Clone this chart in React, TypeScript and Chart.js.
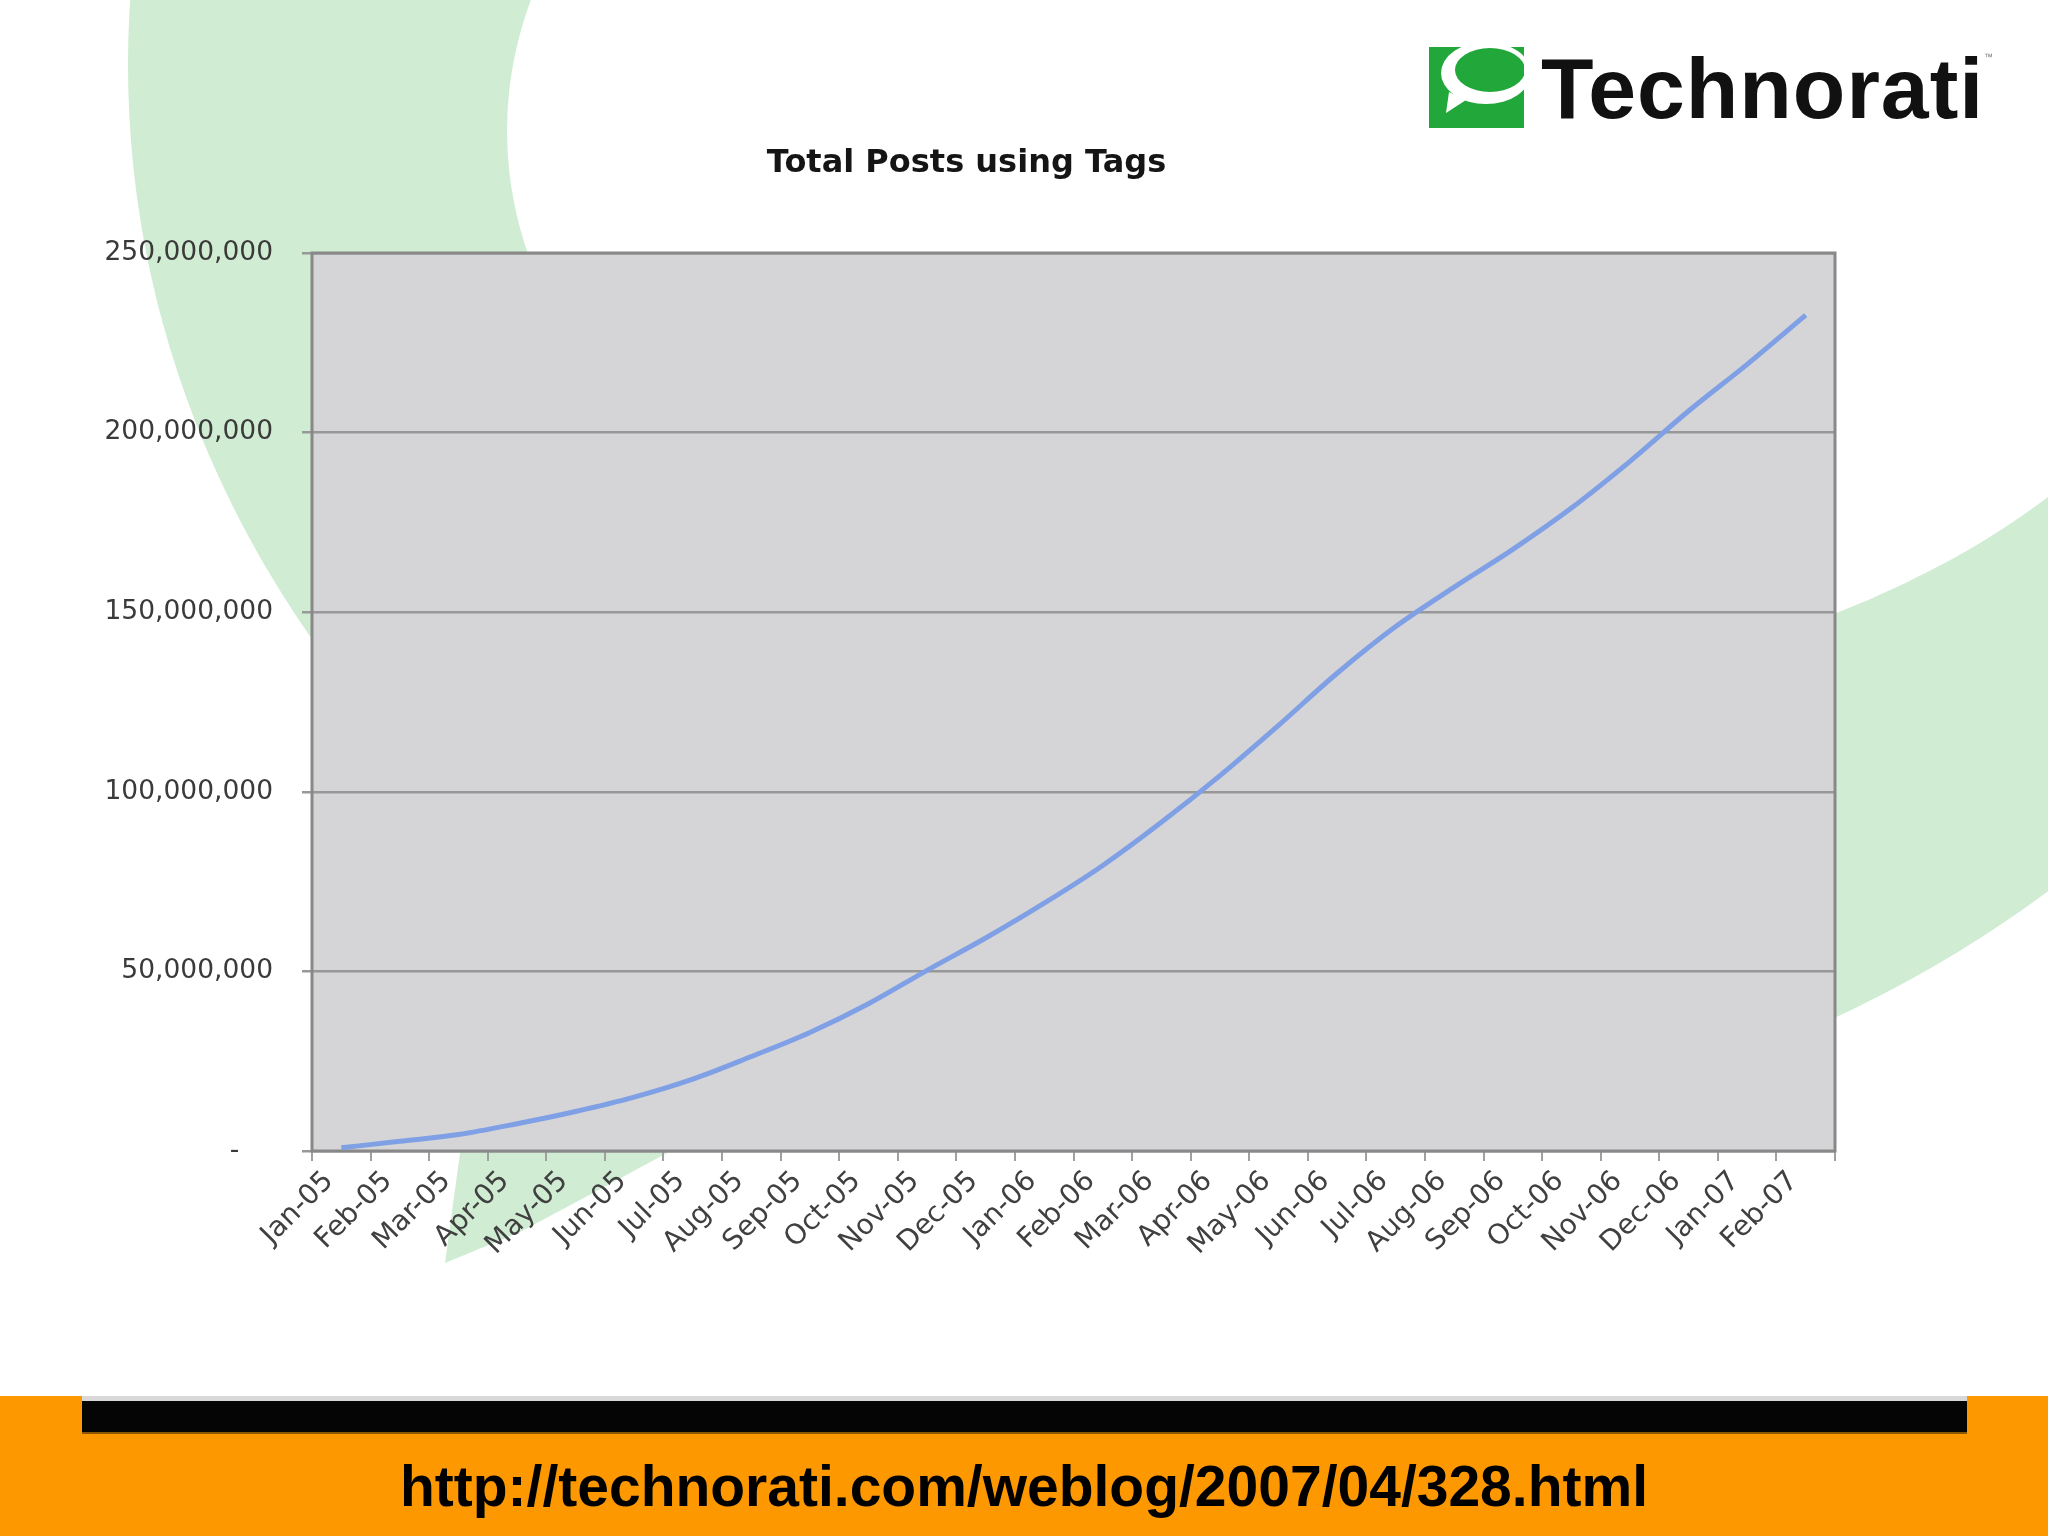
import React, { useEffect, useRef } from "react";
import { Chart, registerables } from "chart.js";

Chart.register(...registerables);

// ---- data ----
const months: string[] = [
  "Jan-05", "Feb-05", "Mar-05", "Apr-05", "May-05", "Jun-05", "Jul-05", "Aug-05",
  "Sep-05", "Oct-05", "Nov-05", "Dec-05", "Jan-06", "Feb-06", "Mar-06", "Apr-06",
  "May-06", "Jun-06", "Jul-06", "Aug-06", "Sep-06", "Oct-06", "Nov-06", "Dec-06",
  "Jan-07", "Feb-07",
];

const totalPosts: number[] = [
  900000, 2700000, 4600000, 7600000, 11000000, 15000000, 20000000, 26300000,
  33000000, 41000000, 50300000, 59300000, 69000000, 79500000, 91500000, 104500000,
  118500000, 133000000, 146000000, 157000000, 167500000, 179000000, 192000000, 206000000,
  219000000, 232700000,
];

const yTickValues: number[] = [0, 50000000, 100000000, 150000000, 200000000, 250000000];
const yTickLabels: string[] = ["-    ", "50,000,000", "100,000,000", "150,000,000", "200,000,000", "250,000,000"];

const chartTitle = "Total Posts using Tags";
const brandName = "Technorati";
const footerUrl = "http://technorati.com/weblog/2007/04/328.html";

// ---- layout constants ----
const CANVAS_W = 1874;
const CANVAS_H = 1300;
const PLOT_BOTTOM = 1151;
const PLOT_LEFT = 312;
const PAD_LEFT = 98;
const PAD_RIGHT = 39;

const plotBackground = {
  id: "plotBackground",
  beforeDraw(chart: any) {
    const { ctx, chartArea } = chart;
    if (!chartArea) return;
    ctx.save();
    ctx.fillStyle = "#d5d5d7";
    ctx.fillRect(chartArea.left, chartArea.top, chartArea.right - chartArea.left, chartArea.bottom - chartArea.top);
    ctx.restore();
  },
  beforeDatasetsDraw(chart: any) {
    const { ctx, chartArea } = chart;
    ctx.save();
    ctx.strokeStyle = "#888888";
    ctx.lineWidth = 3;
    ctx.strokeRect(chartArea.left, chartArea.top, chartArea.right - chartArea.left, chartArea.bottom - chartArea.top);
    ctx.restore();
  },
};

function TotalPostsChart() {
  const ref = useRef<HTMLCanvasElement | null>(null);
  useEffect(() => {
    if (!ref.current) return;
    const chart = new Chart(ref.current, {
      type: "line",
      data: {
        labels: months,
        datasets: [
          {
            label: chartTitle,
            data: totalPosts,
            borderColor: "#80a0e6",
            borderWidth: 5,
            pointRadius: 0,
            fill: false,
            cubicInterpolationMode: "monotone",
          },
        ],
      },
      options: {
        animation: false,
        responsive: false,
        maintainAspectRatio: false,
        layout: { padding: { left: PAD_LEFT, right: PAD_RIGHT, top: 0, bottom: 0 } },
        plugins: {
          legend: { display: false },
          tooltip: { enabled: false },
          title: {
            display: true,
            text: chartTitle,
            color: "#151515",
            font: { family: "'DejaVu Sans', Verdana, sans-serif", size: 32, weight: "bold", lineHeight: 1.2 },
            padding: { top: 144, bottom: 70.6 },
          },
        },
        scales: {
          x: {
            offset: true,
            grid: {
              offset: true,
              drawOnChartArea: false,
              drawTicks: true,
              tickLength: 10,
              color: "#a0a0a0",
              lineWidth: 2,
            },
            border: { display: false },
            ticks: {
              autoSkip: false,
              minRotation: 45,
              maxRotation: 45,
              padding: 4,
              labelOffset: -12,
              color: "#404040",
              font: { family: "'DejaVu Sans', Verdana, sans-serif", size: 28 },
            },
            afterFit: (s: any) => {
              s.height = CANVAS_H - PLOT_BOTTOM;
            },
          },
          y: {
            min: yTickValues[0],
            max: yTickValues[yTickValues.length - 1],
            ticks: {
              stepSize: yTickValues[1] - yTickValues[0],
              padding: 29,
              color: "#3a3a3a",
              font: { family: "'DejaVu Sans', Verdana, sans-serif", size: 26.5 },
              callback: (_v: any, i: number) => yTickLabels[i],
            },
            grid: { color: "#989898", lineWidth: 2.5, tickLength: 10, drawTicks: true },
            border: { display: false },
            afterFit: (s: any) => {
              s.width = PLOT_LEFT - PAD_LEFT;
            },
          },
        },
      },
      plugins: [plotBackground],
    } as any);
    return () => chart.destroy();
  }, []);
  return (
    <canvas
      ref={ref}
      width={CANVAS_W}
      height={CANVAS_H}
      style={{ position: "absolute", left: 0, top: 0, width: CANVAS_W, height: CANVAS_H }}
    />
  );
}

export default function App() {
  return (
    <div
      style={{
        position: "absolute",
        left: 0,
        top: 0,
        width: 2048,
        height: 1536,
        overflow: "hidden",
        background: "#ffffff",
      }}
    >
      {/* background swoosh */}
      <svg width={2048} height={1536} style={{ position: "absolute", left: 0, top: 0 }}>
        <path
          fill="#d0edd4"
          fillRule="evenodd"
          d={
            "M 128 65 A 1175 1068 0 1 0 2478 65 A 1175 1068 0 1 0 128 65 Z " +
            "M 507 131 A 875 564 0 1 0 2257 131 A 875 564 0 1 0 507 131 Z"
          }
        />
        <path fill="#d0edd4" d="M 470 900 L 460 1153 L 445 1263 L 520 1232 L 580 1200 L 667 1153 L 760 1000 L 700 900 Z" />
      </svg>

      <TotalPostsChart />

      {/* logo */}
      <svg width={2048} height={200} style={{ position: "absolute", left: 0, top: 0 }}>
        <defs>
          <clipPath id="logoClip">
            <rect x={1429} y={47} width={95} height={81} />
          </clipPath>
        </defs>
        <rect x={1429} y={47} width={95} height={81} fill="#22a83a" />
        <g clipPath="url(#logoClip)">
          <ellipse cx={1486} cy={73} rx={45} ry={31} fill="#ffffff" />
          <polygon points="1449,92 1466,100 1446,113" fill="#ffffff" />
          <ellipse cx={1490} cy={70} rx={35} ry={22} fill="#22a83a" />
        </g>
      </svg>
      <div
        style={{
          position: "absolute",
          left: 1541,
          top: 45,
          fontFamily: "'Liberation Sans', Arial, sans-serif",
          fontWeight: "bold",
          fontSize: 86,
          lineHeight: "86px",
          letterSpacing: 1,
          color: "#111111",
          whiteSpace: "nowrap",
        }}
      >
        {brandName}
      </div>
      <div
        style={{
          position: "absolute",
          left: 1984,
          top: 52,
          fontFamily: "'Liberation Sans', Arial, sans-serif",
          fontSize: 9,
          color: "#777",
        }}
      >
        ™
      </div>

      {/* footer */}
      <div style={{ position: "absolute", left: 0, top: 1396, width: 2048, height: 140, background: "#fd9800" }} />
      <div style={{ position: "absolute", left: 82, top: 1396, width: 1885, height: 5, background: "#d8d8d8" }} />
      <div style={{ position: "absolute", left: 82, top: 1401, width: 1885, height: 31, background: "#050505" }} />
      <div style={{ position: "absolute", left: 82, top: 1432, width: 1885, height: 2, background: "#8a5600" }} />
      <div
        style={{
          position: "absolute",
          left: 0,
          top: 1458,
          width: 2048,
          textAlign: "center",
          fontFamily: "'Liberation Sans', Arial, sans-serif",
          fontWeight: "bold",
          fontSize: 57,
          lineHeight: "57px",
          color: "#000000",
          whiteSpace: "nowrap",
        }}
      >
        {footerUrl}
      </div>
    </div>
  );
}
